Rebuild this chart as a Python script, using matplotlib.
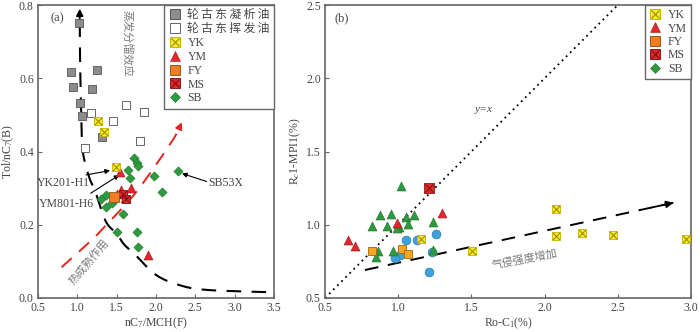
import numpy as np
import matplotlib
matplotlib.use("Agg")
import matplotlib.pyplot as plt
from matplotlib.lines import Line2D

plt.rcParams['font.family'] = ['Liberation Serif', 'Noto Sans CJK SC', 'DejaVu Sans']
plt.rcParams['mathtext.fontset'] = 'custom'
plt.rcParams['mathtext.rm'] = 'Liberation Serif'
plt.rcParams['mathtext.it'] = 'Liberation Serif:italic'

# ---------------- Panel (a) data ----------------
cond_x = [1.02, 0.92, 1.25, 0.94, 1.19, 1.03, 1.06, 1.31]
cond_y = [0.750, 0.616, 0.623, 0.576, 0.571, 0.532, 0.497, 0.439]
vol_x = [1.18, 1.62, 1.85, 1.45, 1.80, 1.10]
vol_y = [0.504, 0.528, 0.507, 0.483, 0.428, 0.410]
a_yk_x = [1.26, 1.34, 1.49]
a_yk_y = [0.483, 0.452, 0.357]
a_ym_x = [1.54, 1.68, 1.56, 1.51, 1.61, 1.90]
a_ym_y = [0.343, 0.301, 0.295, 0.284, 0.272, 0.117]
a_ms_x = [1.585, 1.62]
a_ms_y = [0.284, 0.270]
a_fy_x = [1.47]
a_fy_y = [0.277]
a_sb_x = [1.725, 1.755, 1.775, 1.64, 1.67, 1.97, 2.28, 2.07, 1.30, 1.36, 1.36, 1.445,
          1.585, 1.50, 1.76, 1.775]
a_sb_y = [0.381, 0.368, 0.361, 0.349, 0.329, 0.333, 0.348, 0.289, 0.269, 0.280, 0.249, 0.260,
          0.229, 0.179, 0.179, 0.140]

# guide curves (a)
evap_x = [3.40, 2.65, 2.30, 2.00, 1.75, 1.60, 1.50, 1.36, 1.23, 1.15, 1.07, 1.05, 1.035, 1.03]
evap_y = [0.016, 0.022, 0.035, 0.063, 0.115, 0.145, 0.175, 0.21, 0.29, 0.33, 0.40, 0.50, 0.65, 0.79]
mat_x = [0.80, 1.18, 1.37, 1.75, 2.20, 2.33]
mat_y = [0.084, 0.158, 0.20, 0.29, 0.427, 0.48]

# ---------------- Panel (b) data ----------------
b_sb_x = [1.017, 0.876, 0.951, 0.819, 0.926, 1.053, 1.108, 1.008, 1.069, 1.235, 0.864, 0.848,
          0.967, 1.235, 0.99]
b_sb_y = [1.265, 1.067, 1.073, 0.991, 0.991, 1.055, 1.067, 0.982, 1.005, 1.021, 0.821, 0.778,
          0.823, 0.828, 0.975]
b_ym_x = [0.655, 0.705, 0.990, 1.297]
b_ym_y = [0.896, 0.855, 1.010, 1.082]
b_ms_x = [1.21]
b_ms_y = [1.249]
b_fy_x = [0.823, 1.024, 1.069]
b_fy_y = [0.821, 0.832, 0.800]
b_bl_x = [1.053, 1.126, 1.256, 1.012, 0.978, 1.233, 1.212]
b_bl_y = [0.896, 0.896, 0.937, 0.794, 0.771, 0.814, 0.675]
b_yk_x = [1.156, 2.076, 2.076, 2.253, 2.469, 2.966, 1.506]
b_yk_y = [0.903, 1.107, 0.925, 0.941, 0.930, 0.901, 0.823]

gas_x = [0.773, 2.879]
gas_y = [0.691, 1.150]

GRAY = '#444444'
SPINE = '#666666'


def catmull(xs, ys, n=20):
    p = np.column_stack([xs, ys]).astype(float)
    p = np.vstack([p[0] * 2 - p[1], p, p[-1] * 2 - p[-2]])
    out = []
    for i in range(1, len(p) - 2):
        p0, p1, p2, p3 = p[i - 1], p[i], p[i + 1], p[i + 2]
        t = np.linspace(0, 1, n, endpoint=False)[:, None]
        seg = 0.5 * ((2 * p1) + (-p0 + p2) * t + (2 * p0 - 5 * p1 + 4 * p2 - p3) * t ** 2
                     + (-p0 + 3 * p1 - 3 * p2 + p3) * t ** 3)
        out.append(seg)
    out.append(p[-2][None, :])
    out = np.vstack(out)
    return out[:, 0], out[:, 1]


def style_axes(ax):
    for s in ax.spines.values():
        s.set_color(SPINE)
        s.set_linewidth(1.2)
    ax.tick_params(direction='in', length=3, color=SPINE, labelsize=8.5, labelcolor=GRAY, pad=3)


def yk(ax, x, y, s=38):
    ax.scatter(x, y, marker='s', s=s, c='#f7ec2b', edgecolors='#c8b400', linewidths=0.6, zorder=5)
    ax.scatter(x, y, marker='x', s=s * 0.75, c='#a08c00', linewidths=0.8, zorder=6)


def ms(ax, x, y, s=38):
    ax.scatter(x, y, marker='s', s=s, c='#e3262a', edgecolors='#8a1a1a', linewidths=0.6, zorder=5)
    ax.scatter(x, y, marker='x', s=s * 0.75, c='#7a1010', linewidths=0.7, zorder=6)


def arrow(ax, head, tail, color='black', lw=0.8, ms_=7):
    ax.annotate('', xy=head, xytext=tail,
                arrowprops=dict(arrowstyle='-|>', color=color, lw=lw, mutation_scale=ms_,
                                shrinkA=0, shrinkB=0), zorder=3)


fig = plt.figure(figsize=(7.0, 3.32), dpi=100)
ax1 = fig.add_axes([38 / 700, 1 - 298 / 332, (274 - 38) / 700, (298 - 5) / 332])
ax2 = fig.add_axes([325 / 700, 1 - 298 / 332, (691 - 325) / 700, (298 - 5) / 332])

# ---------- panel a ----------
ax = ax1
ax.set_xlim(0.5, 3.5)
ax.set_ylim(0.0, 0.8)
ax.set_xticks([0.5, 1.0, 1.5, 2.0, 2.5, 3.0, 3.5])
ax.set_yticks([0.0, 0.2, 0.4, 0.6, 0.8])
ax.xaxis.set_major_formatter(matplotlib.ticker.FormatStrFormatter('%.1f'))
ax.yaxis.set_major_formatter(matplotlib.ticker.FormatStrFormatter('%.1f'))
style_axes(ax)

ex, ey = catmull(evap_x, evap_y)
ax.plot(ex[:-3], ey[:-3], ls=(0, (7, 5)), color='black', lw=1.5, zorder=2)
arrow(ax, (ex[-1], ey[-1]), (ex[-6], ey[-6]), lw=1.3, ms_=10)
mx, my = catmull(mat_x, mat_y)
ax.plot(mx[:-4], my[:-4], ls=(0, (7, 5)), color='#e8231f', lw=1.4, zorder=2)
arrow(ax, (mx[-1], my[-1]), (mx[-6], my[-6]), color='#e8231f', lw=1.3, ms_=10)

ax.scatter(cond_x, cond_y, marker='s', s=40, c='#8c8c8c', edgecolors='#555555', linewidths=0.6, zorder=4)
ax.scatter(vol_x, vol_y, marker='s', s=40, c='white', edgecolors='#666666', linewidths=0.7, zorder=4)
ax.scatter(a_sb_x, a_sb_y, marker='D', s=22, c='#2e9a3e', edgecolors='#1f6e2a', linewidths=0.4, zorder=4)
ax.scatter(a_ym_x, a_ym_y, marker='^', s=42, c='#e3262a', edgecolors='#9a1a1a', linewidths=0.4, zorder=5)
ms(ax, a_ms_x, a_ms_y)
ax.scatter(a_fy_x, a_fy_y, marker='s', s=42, c='#f07d22', edgecolors='#8a5a20', linewidths=0.6, zorder=5)
yk(ax, a_yk_x, a_yk_y)

ax.text(0.055, 0.955, '(a)', transform=ax.transAxes, fontsize=9, color=GRAY, va='center', ha='left')
ax.text(1.63, 0.695, '蒸发分馏效应', rotation=-90, fontsize=8, color='#777777',
        family=['Noto Sans CJK SC'], ha='center', va='center')
ax.text(1.14, 0.098, '热成熟作用', rotation=50, fontsize=8, color='#777777',
        family=['Noto Sans CJK SC'], ha='center', va='center')

ax.text(0.82, 0.314, 'YK201-H1', fontsize=8.5, color=GRAY, ha='center', va='center')
arrow(ax, (1.415, 0.348), (1.11, 0.336))
ax.text(0.865, 0.257, 'YM801-H6', fontsize=8.5, color=GRAY, ha='center', va='center')
arrow(ax, (1.534, 0.336), (1.17, 0.286))
ax.text(2.66, 0.315, 'SB53X', fontsize=8.5, color=GRAY, ha='left', va='center')
arrow(ax, (2.33, 0.340), (2.644, 0.318))

ax.set_xlabel('nC$_7$/MCH(F)', fontsize=8.5, color=GRAY, labelpad=1)
ax.set_ylabel('Tol/nC$_7$(B)', fontsize=8.5, color=GRAY, labelpad=2)


def sq_handle(fc, ec):
    return Line2D([], [], marker='s', ls='', markersize=7, markerfacecolor=fc, markeredgecolor=ec,
                  markeredgewidth=0.7)


def x_handle(c):
    return Line2D([], [], marker='x', ls='', markersize=6, markeredgecolor=c, markeredgewidth=0.8)


h_yk = (sq_handle('#f7ec2b', '#c8b400'), x_handle('#a08c00'))
h_ym = Line2D([], [], marker='^', ls='', markersize=7, markerfacecolor='#e3262a', markeredgecolor='#9a1a1a',
              markeredgewidth=0.4)
h_fy = sq_handle('#f07d22', '#8a5a20')
h_ms = (sq_handle('#e3262a', '#8a1a1a'), x_handle('#7a1010'))
h_sb = Line2D([], [], marker='D', ls='', markersize=5, markerfacecolor='#2e9a3e', markeredgecolor='#1f6e2a',
              markeredgewidth=0.4)
h_cond = sq_handle('#8c8c8c', '#555555')
h_vol = sq_handle('white', '#666666')

leg1 = ax.legend([h_cond, h_vol, h_yk, h_ym, h_fy, h_ms, h_sb],
                 ['轮\u2009古\u2009东\u2009凝\u2009析\u2009油', '轮\u2009古\u2009东\u2009挥\u2009发\u2009油',
                  'YK', 'YM', 'FY', 'MS', 'SB'],
                 loc='upper right', fontsize=8.5, frameon=True, fancybox=False, framealpha=1,
                 edgecolor=SPINE, borderpad=0.35, labelspacing=0.16, handlelength=1.0,
                 handletextpad=0.6, borderaxespad=0.0)
leg1.get_frame().set_linewidth(1.0)
for t in leg1.get_texts():
    t.set_color(GRAY)

# ---------- panel b ----------
ax = ax2
ax.set_xlim(0.5, 3.0)
ax.set_ylim(0.5, 2.5)
ax.set_xticks([0.5, 1.0, 1.5, 2.0, 2.5, 3.0])
ax.set_yticks([0.5, 1.0, 1.5, 2.0, 2.5])
ax.xaxis.set_major_formatter(matplotlib.ticker.FormatStrFormatter('%.1f'))
ax.yaxis.set_major_formatter(matplotlib.ticker.FormatStrFormatter('%.1f'))
style_axes(ax)

ax.plot([0.5, 2.5], [0.5, 2.5], ls=(0, (1, 2.2)), color='black', lw=1.3, zorder=2)
ax.plot(gas_x, gas_y, ls=(0, (7, 5)), color='black', lw=1.4, zorder=2)
arrow(ax, (gas_x[1], gas_y[1]), (gas_x[1] - 0.15, gas_y[1] - 0.0327), lw=1.3, ms_=10)

ax.scatter(b_bl_x, b_bl_y, marker='o', s=40, c='#3ba3dc', edgecolors='#2a7aa8', linewidths=0.5, zorder=4)
ax.scatter(b_sb_x, b_sb_y, marker='^', s=42, c='#2e9a3e', edgecolors='#1f6e2a', linewidths=0.4, zorder=4)
ax.scatter(b_ym_x, b_ym_y, marker='^', s=42, c='#e3262a', edgecolors='#9a1a1a', linewidths=0.4, zorder=5)
ax.scatter(b_fy_x, b_fy_y, marker='s', s=40, c='#f5a623', edgecolors='#a06a10', linewidths=0.6, zorder=5)
ms(ax, b_ms_x, b_ms_y, s=46)
yk(ax, b_yk_x, b_yk_y)

ax.text(0.025, 0.955, '(b)', transform=ax.transAxes, fontsize=9, color=GRAY, va='center', ha='left')
ax.text(1.58, 1.78, '$y$=$x$', fontsize=8, color=GRAY, ha='center', va='center')
ax.text(1.86, 0.765, '气侵强度增加', rotation=11, fontsize=8, color='#777777',
        family=['Noto Sans CJK SC'], ha='center', va='center')

ax.set_xlabel('Ro-C$_1$(%)', fontsize=8.5, color=GRAY, labelpad=1)
ax.set_ylabel('R$_c$1-MPI1(%)', fontsize=8.5, color=GRAY, labelpad=2)

leg2 = ax.legend([h_yk, h_ym, h_fy, h_ms, h_sb], ['YK', 'YM', 'FY', 'MS', 'SB'],
                 loc='upper right', fontsize=8.5, frameon=True, fancybox=False, framealpha=1,
                 edgecolor=SPINE, borderpad=0.35, labelspacing=0.12, handlelength=1.0,
                 handletextpad=0.6, borderaxespad=0.0)
leg2.get_frame().set_linewidth(1.0)
for t in leg2.get_texts():
    t.set_color(GRAY)

fig.savefig('out.png', dpi=100)
